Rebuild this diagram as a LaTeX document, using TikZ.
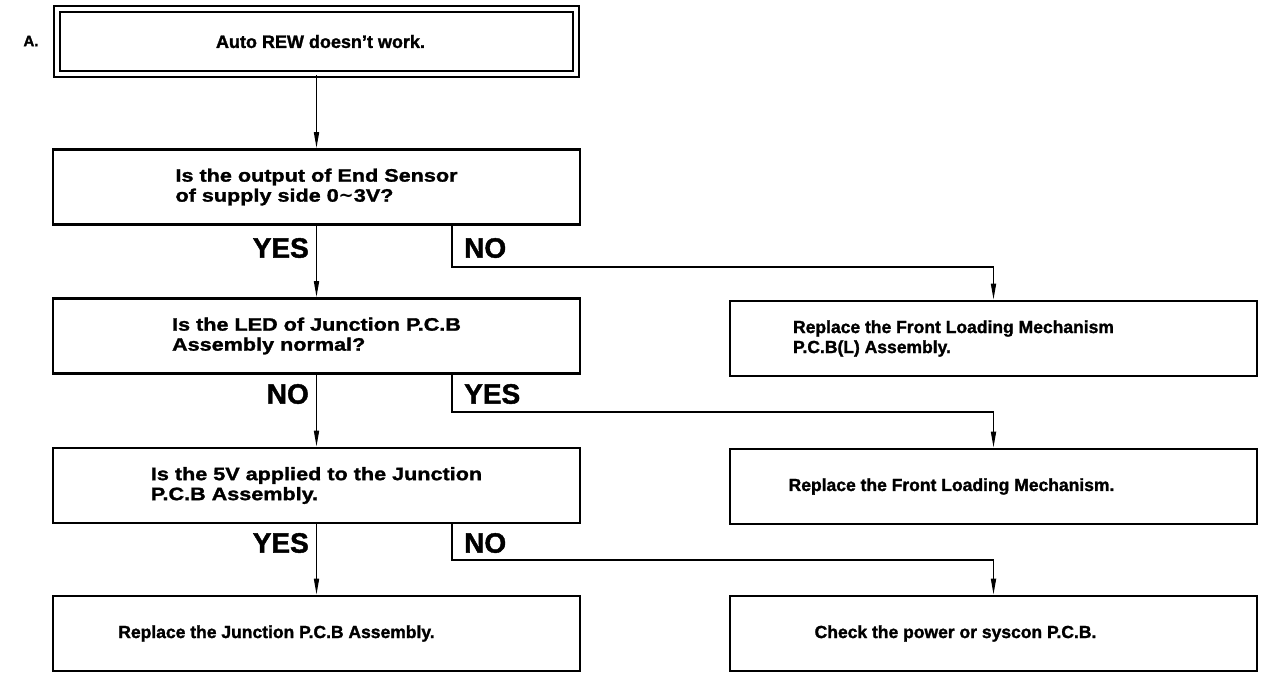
\documentclass[tikz,border=0pt]{standalone}
\usepackage{fontspec}
\setmainfont{Liberation Sans}[BoldFeatures={FakeBold=1.5}]
\newfontfamily\qfont{Liberation Sans}[FakeStretch=1.2,BoldFeatures={FakeBold=1.5}]
\newfontfamily\symfont{DejaVu Sans}
\usetikzlibrary{arrows.meta}

\begin{document}
\begin{tikzpicture}[x=1pt,y=-1pt,
  bx/.style={draw,line width=2.6pt,minimum width=527pt,minimum height=75pt,
             inner sep=0pt,align=center,font=\fontsize{17.5}{20}\selectfont\bfseries},
  qb/.style={bx,align=left,font=\fontsize{18}{20}\selectfont\qfont\bfseries},
  tb/.style={bx,double,line width=1.6pt,double distance=4.5pt,
             font=\fontsize{18}{20}\selectfont\bfseries},
  yn/.style={font=\fontsize{28}{28}\selectfont\bfseries,inner sep=0pt},
  a/.style={-{Triangle[length=16pt,width=5pt]},line width=1.6pt}
]
\useasboundingbox (0,0) rectangle (1261,673);
\node[font=\fontsize{15}{15}\selectfont\bfseries] (lblA) at (31,41) {A.};
\node[tb,minimum width=519pt,minimum height=65pt] (top) at (316.5,41.5) {\hspace*{8pt}Auto REW doesn’t work.};
\node[qb] (q1) at (316.5,187)   {Is the output of End Sensor\\of supply side 0{\symfont ∼}3V?};
\node[qb] (q2) at (316.5,336)   {Is the LED of Junction P.C.B\\Assembly normal?};
\node[qb] (q3) at (316.5,485.5) {Is the 5V applied to the Junction\\P.C.B Assembly.};
% action boxes: text sits left of centre
\node[bx] (r1) at (316.5,633.5) {Replace the Junction P.C.B Assembly.\hspace*{80pt}};
\node[bx,align=left] (f1) at (993.5,338.5) {Replace the Front Loading Mechanism\hspace*{80pt}\\P.C.B(L) Assembly.};
\node[bx] (f2) at (993.5,486.5) {Replace the Front Loading Mechanism.\hspace*{84pt}};
\node[bx] (f3) at (993.5,633.5) {Check the power or syscon P.C.B.\hspace*{76pt}};
\coordinate (k1) at (452,267);
\coordinate (k2) at (452,412);
\coordinate (k3) at (452,560);
\draw[a] (top) -- (q1);
\draw[a] (q1) -- (q2);
\draw[a] (q2) -- (q3);
\draw[a] (q3) -- (r1);
\draw[a] (k1 |- q1.south) -- (k1) -| (f1);
\draw[a] (k2 |- q2.south) -- (k2) -| (f2);
\draw[a] (k3 |- q3.south) -- (k3) -| (f3);
\node[yn,anchor=east] (y1) at (309,248) {YES};
\node[yn,anchor=west] (n1) at (464,248) {NO};
\node[yn,anchor=east] (n2) at (309,394) {NO};
\node[yn,anchor=west] (y2) at (464,394) {YES};
\node[yn,anchor=east] (y3) at (309,543) {YES};
\node[yn,anchor=west] (n3) at (464,543) {NO};
\end{tikzpicture}
\end{document}
